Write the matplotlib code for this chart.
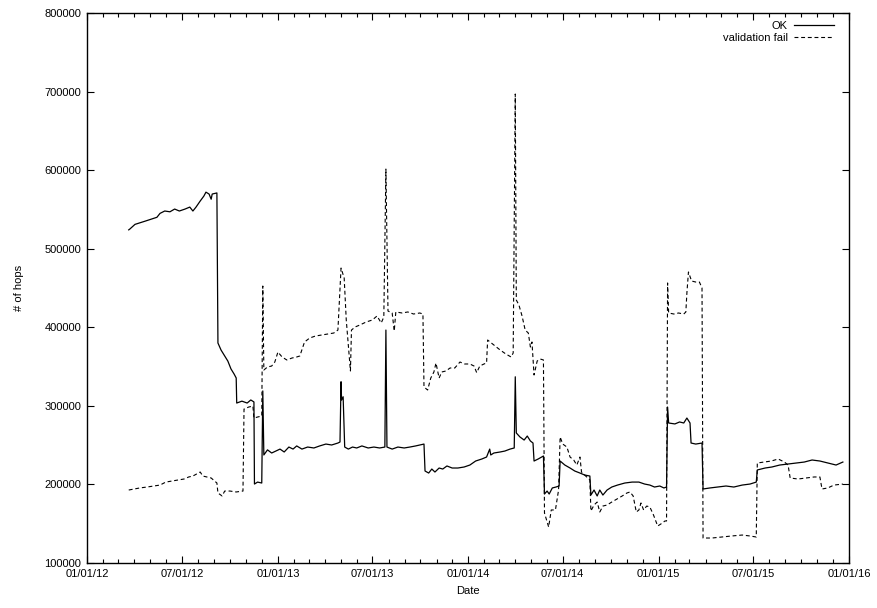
import matplotlib
matplotlib.use("Agg")
import matplotlib.pyplot as plt
import matplotlib.dates as mdates
import pandas as pd

plt.rcParams["font.family"] = ["Liberation Sans", "DejaVu Sans"]

# daily hop counts, sampled at the change points
ok_dates = [
    "2012-03-21", "2012-03-23", "2012-04-02", "2012-04-21", "2012-05-14", "2012-05-20",
    "2012-05-29", "2012-06-08", "2012-06-17", "2012-06-26", "2012-07-07", "2012-07-16",
    "2012-07-22", "2012-07-28", "2012-08-05", "2012-08-12", "2012-08-16", "2012-08-22",
    "2012-08-26", "2012-08-28", "2012-09-06", "2012-09-08", "2012-09-14", "2012-09-21",
    "2012-09-27", "2012-10-03", "2012-10-09", "2012-10-13", "2012-10-14", "2012-10-24",
    "2012-11-03", "2012-11-10", "2012-11-16", "2012-11-17", "2012-11-23", "2012-12-01",
    "2012-12-03", "2012-12-05", "2012-12-12", "2012-12-20", "2012-12-28", "2013-01-05",
    "2013-01-13", "2013-01-22", "2013-01-30", "2013-02-06", "2013-02-16", "2013-02-27",
    "2013-03-11", "2013-03-22", "2013-04-03", "2013-04-14", "2013-04-26", "2013-04-30",
    "2013-05-02", "2013-05-03", "2013-05-06", "2013-05-09", "2013-05-16", "2013-05-24",
    "2013-06-01", "2013-06-11", "2013-06-23", "2013-07-04", "2013-07-15", "2013-07-25",
    "2013-07-27", "2013-07-29", "2013-08-08", "2013-08-19", "2013-08-31", "2013-09-11",
    "2013-09-22", "2013-09-30", "2013-10-08", "2013-10-10", "2013-10-17", "2013-10-23",
    "2013-10-29", "2013-11-06", "2013-11-13", "2013-11-21", "2013-12-01", "2013-12-12",
    "2013-12-24", "2014-01-04", "2014-01-15", "2014-01-27", "2014-02-05", "2014-02-11",
    "2014-02-13", "2014-02-19", "2014-03-03", "2014-03-12", "2014-03-22", "2014-03-30",
    "2014-04-01", "2014-04-03", "2014-04-10", "2014-04-18", "2014-04-24", "2014-04-30",
    "2014-05-05", "2014-05-07", "2014-05-15", "2014-05-25", "2014-05-27", "2014-06-01",
    "2014-06-05", "2014-06-11", "2014-06-18", "2014-06-24", "2014-06-26", "2014-07-05",
    "2014-07-15", "2014-07-24", "2014-08-03", "2014-08-12", "2014-08-22", "2014-08-24",
    "2014-08-30", "2014-09-05", "2014-09-10", "2014-09-16", "2014-09-24", "2014-10-03",
    "2014-10-14", "2014-10-28", "2014-11-11", "2014-11-24", "2014-12-05", "2014-12-15",
    "2014-12-24", "2015-01-03", "2015-01-11", "2015-01-16", "2015-01-18", "2015-01-20",
    "2015-02-01", "2015-02-10", "2015-02-18", "2015-02-24", "2015-03-02", "2015-03-04",
    "2015-03-13", "2015-03-25", "2015-03-27", "2015-04-09", "2015-04-24", "2015-05-10",
    "2015-05-25", "2015-06-10", "2015-06-25", "2015-07-07", "2015-07-09", "2015-07-24",
    "2015-08-06", "2015-08-21", "2015-09-06", "2015-09-21", "2015-10-07", "2015-10-22",
    "2015-11-06", "2015-11-21", "2015-12-07", "2015-12-20",
]
ok_hops = [
    524000, 525000, 531000, 535000, 540000, 545000,
    548000, 547000, 550500, 548000, 550500, 553000,
    548000, 553000, 560700, 567000, 572000, 569600,
    563000, 569600, 571000, 380000, 371000, 363500,
    357000, 347000, 340500, 335500, 303600, 306000,
    303600, 307500, 305000, 200500, 203000, 201800,
    319000, 237500, 244000, 240000, 242500, 245000,
    241300, 247600, 245000, 249000, 245000, 247600,
    246400, 249000, 251400, 250200, 252700, 254000,
    330700, 307500, 311600, 247600, 245000, 247600,
    246400, 249000, 246400, 247600, 246400, 247600,
    396500, 247600, 245000, 247600, 246400, 247600,
    249000, 250200, 251400, 217100, 214500, 219600,
    215800, 220900, 219600, 223500, 220900, 220900,
    222200, 224700, 229800, 232400, 234900, 245000,
    237500, 240000, 241300, 242500, 245000, 246400,
    337000, 265500, 260400, 256500, 261600, 255300,
    252700, 229800, 232400, 236200, 187800, 191600,
    187800, 195500, 196700, 198000, 229800, 224700,
    220900, 217100, 214500, 212000, 210700, 186500,
    192900, 185300, 192900, 186500, 192900, 196700,
    199200, 201800, 203000, 203000, 200500, 199200,
    196700, 198000, 195500, 196700, 298500, 278200,
    277000, 279500, 278200, 284500, 278200, 252700,
    251400, 252700, 194200, 195500, 196700, 198000,
    196700, 199200, 200500, 203000, 218400, 220900,
    222200, 224700, 226000, 227300, 228500, 231100,
    229800, 227300, 224700, 228500,
]

fail_dates = [
    "2012-03-21", "2012-03-31", "2012-04-11", "2012-04-25", "2012-05-08", "2012-05-20",
    "2012-05-31", "2012-06-12", "2012-06-23", "2012-07-05", "2012-07-14", "2012-07-22",
    "2012-07-29", "2012-08-05", "2012-08-10", "2012-08-18", "2012-08-26", "2012-09-06",
    "2012-09-08", "2012-09-16", "2012-09-21", "2012-10-01", "2012-10-13", "2012-10-26",
    "2012-10-28", "2012-11-06", "2012-11-14", "2012-11-16", "2012-11-23", "2012-12-01",
    "2012-12-03", "2012-12-05", "2012-12-12", "2012-12-20", "2012-12-26", "2013-01-01",
    "2013-01-09", "2013-01-18", "2013-01-28", "2013-02-06", "2013-02-12", "2013-02-21",
    "2013-03-03", "2013-03-14", "2013-03-26", "2013-04-07", "2013-04-18", "2013-04-26",
    "2013-05-02", "2013-05-08", "2013-05-12", "2013-05-16", "2013-05-20", "2013-05-22",
    "2013-05-29", "2013-06-07", "2013-06-19", "2013-07-01", "2013-07-10", "2013-07-18",
    "2013-07-23", "2013-07-27", "2013-07-31", "2013-08-08", "2013-08-12", "2013-08-15",
    "2013-08-27", "2013-09-07", "2013-09-18", "2013-09-30", "2013-10-06", "2013-10-08",
    "2013-10-15", "2013-10-21", "2013-10-27", "2013-10-31", "2013-11-06", "2013-11-11",
    "2013-11-19", "2013-11-27", "2013-12-06", "2013-12-16", "2013-12-25", "2014-01-04",
    "2014-01-12", "2014-01-17", "2014-01-23", "2014-01-31", "2014-02-05", "2014-02-07",
    "2014-02-19", "2014-03-03", "2014-03-14", "2014-03-24", "2014-03-28", "2014-04-01",
    "2014-04-03", "2014-04-08", "2014-04-14", "2014-04-20", "2014-04-26", "2014-04-30",
    "2014-05-03", "2014-05-07", "2014-05-13", "2014-05-19", "2014-05-25", "2014-05-27",
    "2014-05-31", "2014-06-04", "2014-06-09", "2014-06-17", "2014-06-23", "2014-06-26",
    "2014-07-01", "2014-07-09", "2014-07-15", "2014-07-22", "2014-07-28", "2014-08-03",
    "2014-08-06", "2014-08-14", "2014-08-22", "2014-08-24", "2014-08-30", "2014-09-05",
    "2014-09-10", "2014-09-16", "2014-09-24", "2014-10-03", "2014-10-13", "2014-10-23",
    "2014-11-01", "2014-11-07", "2014-11-13", "2014-11-19", "2014-11-24", "2014-11-28",
    "2014-12-03", "2014-12-09", "2014-12-15", "2014-12-22", "2014-12-30", "2015-01-05",
    "2015-01-13", "2015-01-16", "2015-01-18", "2015-01-20", "2015-01-30", "2015-02-08",
    "2015-02-18", "2015-02-22", "2015-02-24", "2015-02-27", "2015-03-05", "2015-03-13",
    "2015-03-20", "2015-03-25", "2015-03-27", "2015-04-13", "2015-05-02", "2015-05-21",
    "2015-06-10", "2015-06-25", "2015-07-07", "2015-07-09", "2015-07-22", "2015-08-05",
    "2015-08-18", "2015-08-30", "2015-09-06", "2015-09-10", "2015-09-25", "2015-10-11",
    "2015-10-26", "2015-11-06", "2015-11-10", "2015-11-21", "2015-12-03", "2015-12-20",
]
fail_hops = [
    192900, 194200, 195500, 196700, 198000, 199200,
    203000, 204400, 205600, 206900, 209500, 210700,
    213300, 215800, 210700, 209500, 208200, 201800,
    189100, 185300, 191600, 191600, 190400, 191600,
    296000, 298500, 299800, 284500, 285800, 287100,
    452500, 345600, 349500, 350700, 355800, 368500,
    362200, 358400, 360900, 362200, 363500, 381300,
    386400, 388900, 390200, 391500, 392700, 396500,
    475400, 462700, 409300, 377500, 344400, 396500,
    400400, 402900, 406700, 409300, 414400, 405500,
    413100, 601400, 420700, 418200, 395300, 419500,
    418200, 419500, 416900, 418200, 416900, 324000,
    320200, 335400, 343100, 354500, 335400, 343100,
    344400, 348200, 348200, 355800, 353300, 353300,
    350700, 342300, 350700, 353300, 354500, 383800,
    377500, 371100, 366000, 362200, 367300, 696900,
    434700, 428400, 414400, 396500, 392700, 374900,
    381300, 339300, 357100, 359600, 358400, 163600,
    154700, 145800, 167500, 167500, 192900, 260400,
    251400, 247600, 234900, 231100, 224700, 234900,
    215800, 210700, 205600, 166200, 173800, 177600,
    164900, 172500, 173800, 177600, 181500, 185300,
    189100, 190400, 185300, 164900, 167500, 176400,
    167500, 172500, 171300, 161100, 147100, 149600,
    153500, 153500, 456400, 418200, 416900, 418200,
    416900, 419500, 443600, 470400, 458900, 457600,
    457600, 450000, 131800, 131800, 133100, 134400,
    135600, 134400, 133100, 227300, 228500, 229800,
    232400, 228500, 224700, 208200, 206900, 208200,
    209500, 209500, 194200, 195500, 199200, 200500,
]

fig = plt.figure(figsize=(8.78, 6.08), dpi=100)
ax = fig.add_axes([0.0991, 0.074, 0.868, 0.9046])

ax.plot(pd.to_datetime(ok_dates), ok_hops, color="black", lw=0.9, label="OK")
ax.plot(pd.to_datetime(fail_dates), fail_hops, color="black", lw=0.8,
        linestyle=(0, (3.5, 2.5)), label="validation fail")

ax.set_xlim(pd.Timestamp("2012-01-01"), pd.Timestamp("2016-01-01"))
ax.set_ylim(100000, 800000)
ax.set_yticks(range(100000, 800001, 100000))
ax.ticklabel_format(style="plain", axis="y", useOffset=False)

ax.xaxis.set_major_locator(mdates.MonthLocator(bymonth=[1, 7]))
ax.xaxis.set_minor_locator(mdates.MonthLocator())
ax.xaxis.set_major_formatter(mdates.DateFormatter("%m/%d/%y"))

ax.tick_params(which="both", direction="in", top=True, right=True, labelsize=8, width=0.8)
ax.tick_params(which="major", length=5, pad=4)
ax.tick_params(which="minor", length=3)
for sp in ax.spines.values():
    sp.set_linewidth(1.0)

ax.set_xlabel("Date", fontsize=8, labelpad=5)
ax.set_ylabel("# of hops", fontsize=8, labelpad=15)

ax.legend(loc="upper right", bbox_to_anchor=(0.991, 1.0), frameon=False,
          markerfirst=False, fontsize=8, handlelength=3.6, handletextpad=0.6,
          labelspacing=0.2, borderaxespad=0.3)

fig.savefig("out.png", dpi=100, facecolor="white")
